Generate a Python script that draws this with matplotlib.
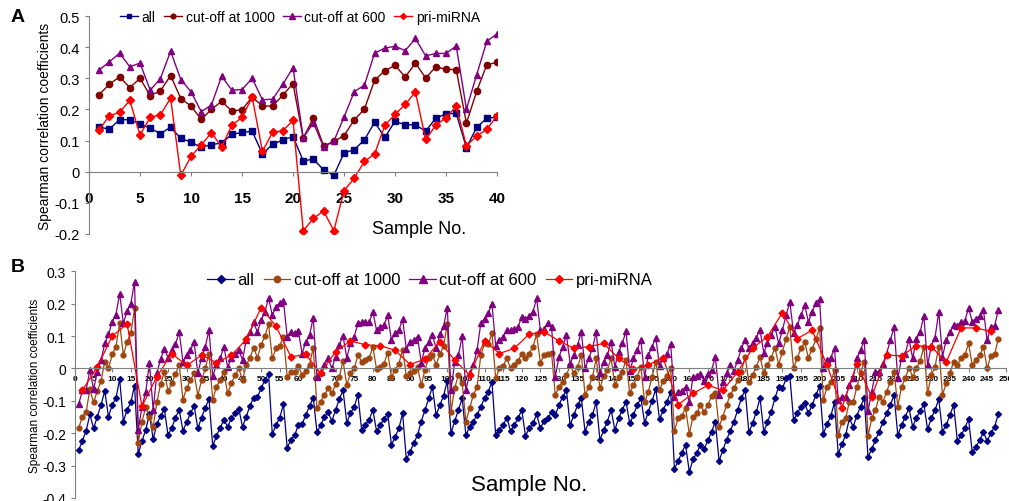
import numpy as np
import matplotlib.pyplot as plt

plt.rcParams['font.family'] = ['Liberation Sans', 'DejaVu Sans']

# ---- panel A data (samples 1..40) ----
a_samples = np.arange(1, 41)
a_all = [0.143, 0.137, 0.167, 0.167, 0.153, 0.14, 0.122, 0.143, 0.107, 0.095,
         0.078, 0.087, 0.092, 0.12, 0.126, 0.13, 0.057, 0.088, 0.102, 0.113,
         0.035, 0.04, 0.006, -0.012, 0.06, 0.071, 0.102, 0.159, 0.11, 0.162,
         0.15, 0.151, 0.13, 0.172, 0.186, 0.187, 0.077, 0.142, 0.172, 0.175]
a_cut1000 = [0.248, 0.281, 0.305, 0.27, 0.3, 0.244, 0.26, 0.309, 0.235, 0.211,
             0.168, 0.2, 0.226, 0.195, 0.199, 0.24, 0.211, 0.211, 0.246, 0.283,
             0.108, 0.173, 0.083, 0.097, 0.116, 0.166, 0.201, 0.294, 0.324, 0.342,
             0.304, 0.349, 0.301, 0.337, 0.329, 0.328, 0.156, 0.258, 0.344, 0.351]
a_cut600 = [0.327, 0.353, 0.381, 0.337, 0.349, 0.262, 0.299, 0.387, 0.296, 0.257,
            0.193, 0.214, 0.307, 0.262, 0.264, 0.3, 0.231, 0.233, 0.281, 0.334,
            0.109, 0.157, 0.079, 0.098, 0.175, 0.257, 0.278, 0.381, 0.397, 0.403,
            0.389, 0.428, 0.372, 0.38, 0.38, 0.404, 0.201, 0.311, 0.419, 0.443]
a_pri = [0.135, 0.18, 0.191, 0.229, 0.118, 0.175, 0.183, 0.236, -0.012, 0.049,
         0.086, 0.125, 0.08, 0.149, 0.175, 0.239, 0.065, 0.127, 0.131, 0.165,
         -0.19, -0.15, -0.126, -0.19, -0.061, -0.021, 0.033, 0.057, 0.149, 0.184,
         0.216, 0.256, 0.104, 0.149, 0.174, 0.21, 0.083, 0.115, 0.136, 0.18]

# ---- panel B data (samples 1..248, pri-miRNA every 4th sample) ----
b_samples = np.arange(1, 249)
b_all = [
    -0.252, -0.223, -0.193, -0.142, -0.185, -0.149, -0.113, -0.069, -0.149, -0.113,
    -0.092, -0.033, -0.164, -0.128, -0.105, -0.053, -0.264, -0.224, -0.19, -0.141,
    -0.218, -0.172, -0.146, -0.126, -0.206, -0.183, -0.152, -0.128, -0.192, -0.166,
    -0.139, -0.116, -0.185, -0.152, -0.121, -0.095, -0.24, -0.208, -0.183, -0.159,
    -0.18, -0.154, -0.139, -0.125, -0.18, -0.149, -0.115, -0.09, -0.088, -0.062,
    -0.036, -0.017, -0.203, -0.175, -0.152, -0.111, -0.245, -0.221, -0.206, -0.175,
    -0.172, -0.144, -0.116, -0.09, -0.197, -0.175, -0.149, -0.136, -0.162, -0.128,
    -0.095, -0.067, -0.167, -0.139, -0.118, -0.082, -0.19, -0.175, -0.159, -0.128,
    -0.193, -0.175, -0.156, -0.14, -0.236, -0.211, -0.185, -0.139, -0.281, -0.257,
    -0.231, -0.206, -0.164, -0.128, -0.092, -0.057, -0.144, -0.113, -0.085, -0.038,
    -0.2, -0.162, -0.128, -0.092, -0.206, -0.18, -0.164, -0.144, -0.118, -0.092,
    -0.072, -0.041, -0.206, -0.19, -0.175, -0.152, -0.193, -0.175, -0.154, -0.128,
    -0.208, -0.185, -0.17, -0.142, -0.185, -0.162, -0.152, -0.136, -0.144, -0.113,
    -0.087, -0.067, -0.175, -0.144, -0.113, -0.092, -0.195, -0.164, -0.144, -0.103,
    -0.221, -0.19, -0.164, -0.128, -0.19, -0.154, -0.128, -0.103, -0.17, -0.144,
    -0.113, -0.092, -0.168, -0.134, -0.1, -0.064, -0.157, -0.128, -0.103, -0.072,
    -0.31, -0.286, -0.26, -0.236, -0.319, -0.281, -0.262, -0.236, -0.249, -0.221,
    -0.195, -0.164, -0.286, -0.252, -0.221, -0.193, -0.164, -0.128, -0.092, -0.067,
    -0.197, -0.17, -0.134, -0.092, -0.195, -0.166, -0.134, -0.092, -0.057, -0.062,
    -0.031, -0.023, -0.159, -0.139, -0.118, -0.108, -0.139, -0.113, -0.082, -0.055,
    -0.202, -0.173, -0.147, -0.105, -0.264, -0.234, -0.206, -0.154, -0.18, -0.146,
    -0.118, -0.09, -0.274, -0.249, -0.221, -0.195, -0.166, -0.139, -0.113, -0.082,
    -0.206, -0.175, -0.149, -0.123, -0.18, -0.152, -0.132, -0.111, -0.188, -0.154,
    -0.128, -0.095, -0.195, -0.175, -0.144, -0.113, -0.224, -0.206, -0.185, -0.156,
    -0.259, -0.242, -0.221, -0.197, -0.224, -0.2, -0.18, -0.141]
b_cut1000 = [
    -0.183, -0.149, -0.134, -0.065, -0.105, -0.07, -0.039, 0.021, 0.0, 0.043,
    0.067, 0.139, 0.041, 0.082, 0.108, 0.185, -0.229, -0.164, -0.12, -0.15,
    -0.18, -0.103, -0.049, -0.01, -0.07, -0.046, -0.018, 0.012, -0.096, -0.062,
    -0.036, -0.015, -0.084, -0.036, 0.0, 0.046, -0.098, -0.057, -0.036, -0.01,
    -0.077, -0.046, -0.021, 0.0, -0.036, 0.01, 0.033, 0.064, 0.033, 0.072,
    0.1, 0.136, 0.031, 0.062, 0.07, 0.098, -0.026, -0.012, -0.012, 0.008,
    -0.021, -0.008, 0.012, 0.064, -0.123, -0.103, -0.082, -0.062, -0.077, -0.049,
    -0.026, 0.023, -0.051, -0.015, 0.0, 0.041, 0.021, 0.026, 0.031, 0.067,
    -0.002, 0.005, 0.015, 0.049, -0.026, -0.005, 0.015, 0.057, -0.023, -0.015,
    -0.008, 0.005, -0.051, -0.005, 0.033, 0.041, 0.012, 0.043, 0.07, 0.136,
    -0.134, -0.06, -0.02, -0.045, -0.164, -0.123, -0.082, -0.057, 0.041, 0.077,
    0.074, 0.108, -0.031, 0.0, 0.008, 0.031, 0.0, 0.012, 0.023, 0.046,
    0.031, 0.046, 0.067, 0.105, 0.018, 0.041, 0.046, 0.049, -0.082, -0.057,
    -0.041, -0.021, 0.01, -0.015, 0.005, 0.041, -0.082, -0.057, -0.026, 0.031,
    -0.062, -0.023, -0.005, 0.031, -0.051, -0.026, -0.01, 0.026, -0.077, -0.051,
    -0.026, 0.005, -0.105, -0.072, -0.026, 0.021, -0.067, -0.039, -0.023, 0.0,
    -0.193, -0.154, -0.146, -0.123, -0.202, -0.149, -0.139, -0.113, -0.134, -0.113,
    -0.084, -0.077, -0.18, -0.149, -0.113, -0.082, -0.062, -0.036, -0.01, 0.036,
    -0.043, -0.021, 0.005, 0.036, -0.015, 0.012, 0.033, 0.064, 0.012, 0.051,
    0.092, 0.128, 0.0, 0.033, 0.062, 0.08, 0.033, 0.06, 0.09, 0.125,
    -0.098, -0.057, -0.043, -0.005, -0.206, -0.164, -0.154, -0.103, -0.105, -0.057,
    -0.015, 0.021, -0.209, -0.154, -0.128, -0.087, -0.103, -0.072, -0.041, -0.01,
    -0.118, -0.057, -0.031, 0.002, -0.026, 0.0, 0.023, 0.067, -0.077, -0.021,
    0.005, 0.067, -0.082, -0.046, -0.015, 0.021, 0.012, 0.031, 0.041, 0.077,
    0.01, 0.026, 0.041, 0.067, 0.0, 0.039, 0.043, 0.092]
b_cut600 = [
    -0.111, -0.067, -0.067, -0.005, -0.064, -0.01, 0.026, 0.077, 0.105, 0.144,
    0.166, 0.231, 0.139, 0.177, 0.2, 0.267, -0.19, -0.118, -0.074, 0.018,
    -0.128, -0.015, 0.029, 0.06, 0.033, 0.057, 0.074, 0.113, 0.021, 0.041,
    0.057, 0.08, -0.015, 0.033, 0.067, 0.118, -0.023, 0.01, 0.031, 0.067,
    0.005, 0.031, 0.043, 0.057, 0.026, 0.087, 0.111, 0.142, 0.112, 0.15,
    0.173, 0.218, 0.164, 0.19, 0.203, 0.208, 0.098, 0.113, 0.108, 0.115,
    0.046, 0.082, 0.103, 0.156, -0.026, -0.01, 0.012, 0.031, 0.0, 0.036,
    0.072, 0.1, 0.033, 0.077, 0.098, 0.139, 0.142, 0.142, 0.142, 0.175,
    0.118, 0.128, 0.134, 0.164, 0.087, 0.108, 0.118, 0.152, 0.06, 0.082,
    0.087, 0.098, 0.018, 0.062, 0.082, 0.103, 0.062, 0.105, 0.13, 0.188,
    -0.067, 0.021, 0.041, 0.1, -0.067, -0.015, 0.01, 0.057, 0.139, 0.154,
    0.17, 0.2, 0.07, 0.087, 0.098, 0.118, 0.118, 0.121, 0.128, 0.159,
    0.152, 0.162, 0.175, 0.216, 0.118, 0.121, 0.139, 0.128, -0.026, 0.036,
    0.067, 0.103, 0.015, 0.041, 0.072, 0.113, 0.0, 0.031, 0.062, 0.113,
    -0.015, 0.021, 0.041, 0.082, 0.005, 0.051, 0.077, 0.115, -0.009, 0.031,
    0.057, 0.087, -0.026, 0.041, 0.067, 0.095, 0.008, 0.031, 0.046, 0.074,
    -0.087, -0.072, -0.07, -0.057, -0.103, -0.026, -0.023, -0.018, -0.039, -0.018,
    -0.005, 0.036, -0.082, -0.041, -0.015, 0.01, -0.008, 0.026, 0.062, 0.089,
    0.062, 0.077, 0.095, 0.118, 0.049, 0.077, 0.103, 0.128, 0.077, 0.118,
    0.164, 0.206, 0.108, 0.134, 0.164, 0.195, 0.144, 0.175, 0.203, 0.214,
    0.0, 0.026, 0.033, 0.062, -0.098, -0.087, -0.087, -0.051, -0.031, 0.031,
    0.057, 0.087, -0.132, -0.072, -0.01, -0.01, 0.015, 0.046, 0.087, 0.128,
    -0.031, 0.031, 0.046, 0.09, 0.031, 0.092, 0.113, 0.162, 0.01, 0.07,
    0.095, 0.175, 0.036, 0.087, 0.113, 0.134, 0.132, 0.144, 0.146, 0.187,
    0.144, 0.154, 0.162, 0.18, 0.087, 0.128, 0.132, 0.18]
b_pri_samples = np.arange(2, 247, 4)
b_pri = [
    -0.067, 0.004, 0.1, 0.137, -0.117, -0.025, 0.046, 0.009, 0.041, 0.018,
    0.04, 0.09, 0.188, 0.13, 0.036, 0.043, -0.015, 0.052, 0.085, 0.073,
    0.07, 0.056, 0.012, 0.029, 0.083, 0.025, -0.02, 0.085, 0.046, 0.062,
    0.106, 0.113, 0.085, 0.062, 0.067, 0.077, 0.031, -0.002, 0.011, 0.033,
    -0.112, -0.077, -0.052, -0.068, -0.011, 0.063, 0.098, 0.172, 0.092, 0.118,
    0.01, -0.122, 0.015, -0.088, 0.041, 0.039, 0.07, 0.067, 0.02, 0.125,
    0.125, 0.114]

labels = ['all', 'cut-off at 1000', 'cut-off at 600', 'pri-miRNA']
NAVY, MAROON, BROWN, PURPLE, RED = '#000080', '#800000', '#A0460F', '#800080', '#FF0000'
AXIS_GREY = '#808080'


def setup_axis(ax, xmax, xstep, ymin, ymax, ytick_labels, xtick_size, xtick_pad, ytick_size):
    ax.set_xlim(0, xmax)
    ax.set_ylim(ymin, ymax)
    for side in ['top', 'right']:
        ax.spines[side].set_visible(False)
    ax.spines['bottom'].set_position(('data', 0))
    ax.spines['bottom'].set_color(AXIS_GREY)
    ax.spines['left'].set_color(AXIS_GREY)
    ax.set_xticks(np.arange(0, xmax + 1, xstep))
    ax.set_xticklabels([str(v) for v in np.arange(0, xmax + 1, xstep)],
                       fontweight='bold', fontsize=xtick_size)
    ax.tick_params(axis='x', direction='out', length=3, pad=xtick_pad, colors=AXIS_GREY,
                   labelcolor='black')
    yt = np.round(np.arange(ymin, ymax + 0.001, 0.1), 1)
    ax.set_yticks(yt)
    ax.set_yticklabels(ytick_labels, fontsize=ytick_size)
    ax.tick_params(axis='y', direction='out', length=3, colors=AXIS_GREY, labelcolor='black')


fig = plt.figure(figsize=(10.09, 5.02), dpi=100)

# ---------------- panel A ----------------
axA = fig.add_axes([0.0882, 0.532, 0.4044, 0.434])
setup_axis(axA, 40, 5, -0.2, 0.5,
           ['-0.2', '-0.1', '0', '0.1', '0.2', '0.3', '0.4', '0.5'], 11, 11, 10.5)
axA.plot(a_samples, a_all, '-s', color=NAVY, lw=1, ms=4.5, label=labels[0])
axA.plot(a_samples, a_cut1000, '-o', color=MAROON, lw=1, ms=4.5, label=labels[1])
axA.plot(a_samples, a_cut600, '-^', color=PURPLE, lw=1, ms=5, label=labels[2])
axA.plot(a_samples, a_pri, '-D', color=RED, lw=1, ms=4, label=labels[3])
axA.set_ylabel('Spearman correlation coefficients', fontsize=10, labelpad=2)
fig.text(419 / 1009, 1 - 230 / 502, 'Sample No.', fontsize=13, ha='center', va='center')
axA.legend(loc='center', bbox_to_anchor=(300 / 1009, 1 - 18 / 502),
           bbox_transform=fig.transFigure, ncol=4, frameon=False, fontsize=10,
           handlelength=1.3, handletextpad=0.25, columnspacing=0.6, markerscale=0.75)
fig.text(18 / 1009, 1 - 18 / 502, 'A', fontsize=14, fontweight='bold', ha='center', va='center')

# ---------------- panel B ----------------
axB = fig.add_axes([0.0743, 0.006, 0.9225, 0.4517])
setup_axis(axB, 250, 5, -0.4, 0.3,
           ['-0.4', '-0.3', '-0.2', '-0.1', '0', '0.1', '0.2', '0.3'], 6, 2, 10)
axB.plot(b_samples, b_all, '-D', color=NAVY, lw=0.9, ms=3, label=labels[0])
axB.plot(b_samples, b_cut1000, '-o', color=BROWN, lw=0.9, ms=3.5, label=labels[1])
axB.plot(b_samples, b_cut600, '-^', color=PURPLE, lw=0.9, ms=4, label=labels[2])
axB.plot(b_pri_samples, b_pri, '-D', color=RED, lw=0.9, ms=3.5, label=labels[3])
axB.set_ylabel('Spearman correlation coefficients', fontsize=8.5, labelpad=1)
fig.text(529 / 1009, 1 - 486 / 502, 'Sample No.', fontsize=16, ha='center', va='center')
axB.legend(loc='center', bbox_to_anchor=(430 / 1009, 1 - 281 / 502),
           bbox_transform=fig.transFigure, ncol=4, frameon=False, fontsize=12,
           handlelength=1.6, handletextpad=0.2, columnspacing=0.55, markerscale=1.3)
fig.text(18 / 1009, 1 - 268 / 502, 'B', fontsize=14, fontweight='bold', ha='center', va='center')

fig.savefig('out.png', dpi=100)
